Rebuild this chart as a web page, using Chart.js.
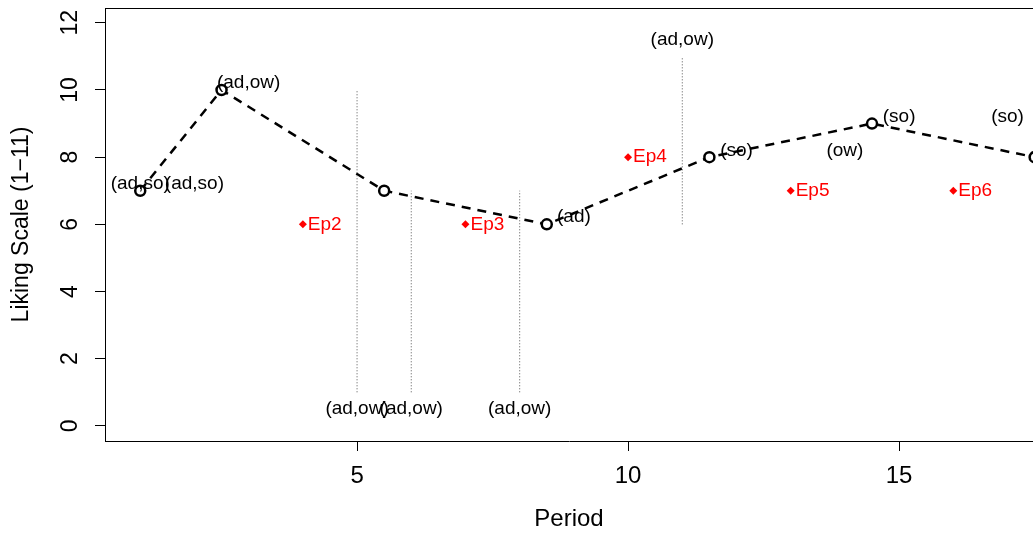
<!DOCTYPE html>
<html>
<head>
<meta charset="utf-8">
<title>Liking by period</title>
<script src="https://cdn.jsdelivr.net/npm/chart.js@4.4.1/dist/chart.umd.min.js"></script>
<style>
    html, body { margin: 0; padding: 0; background: #fff; overflow: hidden; }
    #likingChart { display: block; }
</style>
</head>
<body>
<canvas id="likingChart" width="1033" height="539"></canvas>
<script>
// main series (liking score per period)
const periods = [1, 2.5, 5.5, 8.5, 11.5, 14.5, 17.5];
const liking = [7, 10, 7, 6, 8, 9, 8];

// episode markers
const epPeriods = [4, 7, 10, 13, 16];
const epLiking = [6, 6, 8, 7, 7];
const epLabels = ['Ep2', 'Ep3', 'Ep4', 'Ep5', 'Ep6'];

// dotted event lines and their labels
const eventPeriods = [5, 6, 8, 11];
const eventFrom = [1, 1, 1, 6];
const eventTo = [10, 7, 7, 11];
const eventLabelY = [0.5, 0.5, 0.5, 11.5];
const eventLabels = ['(ad,ow)', '(ad,ow)', '(ad,ow)', '(ad,ow)'];

// notes next to the series
const noteX = [1, 2, 3, 9, 12, 14, 15, 17];
const noteY = [7.22, 7.22, 10.22, 6.22, 8.2, 8.2, 9.2, 9.2];
const noteText = ['(ad,so)', '(ad,so)', '(ad,ow)', '(ad)', '(so)', '(ow)', '(so)', '(so)'];

// axis ticks
const xTicks = [5, 10, 15];
const yTicks = [0, 2, 4, 6, 8, 10, 12];

const fontFamily = "'Liberation Sans', Arial, Helvetica, sans-serif";

const datasets = [];

eventPeriods.forEach((x, i) => {
    datasets.push({
        data: [{ x: x, y: eventFrom[i] }, { x: x, y: eventTo[i] }],
        borderColor: '#555',
        borderWidth: 1,
        borderDash: [1, 2],
        pointRadius: 0,
        fill: false
    });
});

datasets.push({
    data: periods.map((x, i) => ({ x: x, y: liking[i] })),
    borderColor: '#000',
    borderWidth: 2.5,
    borderDash: [9, 7],
    pointStyle: 'circle',
    pointRadius: 5,
    pointBorderWidth: 2.5,
    pointBorderColor: '#000',
    pointBackgroundColor: '#fff',
    fill: false
});

datasets.push({
    data: epPeriods.map((x, i) => ({ x: x, y: epLiking[i] })),
    showLine: false,
    pointStyle: 'rectRot',
    pointRadius: 4,
    pointBorderWidth: 0,
    pointBackgroundColor: '#ff0000',
    pointBorderColor: '#ff0000'
});

// text labels and the top edge of the frame
const textPlugin = {
    id: 'textLabels',
    afterDatasetsDraw(chart) {
        const ctx = chart.ctx;
        const xs = chart.scales.x;
        const ys = chart.scales.y;
        const area = chart.chartArea;

        ctx.save();
        ctx.font = '19px ' + fontFamily;
        ctx.textBaseline = 'middle';

        ctx.fillStyle = '#000';
        ctx.textAlign = 'center';
        noteText.forEach((t, i) => {
            ctx.fillText(t, xs.getPixelForValue(noteX[i]), ys.getPixelForValue(noteY[i]));
        });
        eventLabels.forEach((t, i) => {
            ctx.fillText(t, xs.getPixelForValue(eventPeriods[i]), ys.getPixelForValue(eventLabelY[i]));
        });

        ctx.fillStyle = '#ff0000';
        ctx.textAlign = 'left';
        epLabels.forEach((t, i) => {
            ctx.fillText(t, xs.getPixelForValue(epPeriods[i]) + 5, ys.getPixelForValue(epLiking[i]));
        });

        ctx.strokeStyle = '#000';
        ctx.lineWidth = 1;
        ctx.beginPath();
        ctx.moveTo(area.left, area.top + 0.5);
        ctx.lineTo(area.right, area.top + 0.5);
        ctx.stroke();
        ctx.restore();
    }
};

new Chart(document.getElementById('likingChart'), {
    type: 'line',
    data: { datasets: datasets },
    options: {
        responsive: false,
        animation: false,
        layout: { autoPadding: false, padding: { top: 8, right: 0, left: 0, bottom: 0 } },
        plugins: {
            legend: { display: false },
            tooltip: { enabled: false }
        },
        scales: {
            x: {
                type: 'linear',
                min: 0.35,
                max: 17.47,
                afterBuildTicks: scale => { scale.ticks = xTicks.map(v => ({ value: v })); },
                afterFit: scale => {
                    scale.height = 98;
                    scale.paddingLeft = 0;
                    scale.paddingRight = 0;
                },
                grid: { drawOnChartArea: false, drawTicks: true, tickLength: 10, tickColor: '#000' },
                border: { display: true, color: '#000', width: 1 },
                ticks: {
                    color: '#000',
                    padding: 11,
                    maxRotation: 0,
                    font: { family: fontFamily, size: 24 }
                },
                title: {
                    display: true,
                    text: 'Period',
                    color: '#000',
                    font: { family: fontFamily, size: 24 },
                    padding: { top: 0, bottom: 5 }
                }
            },
            y: {
                type: 'linear',
                min: -0.45,
                max: 12.44,
                afterBuildTicks: scale => { scale.ticks = yTicks.map(v => ({ value: v })); },
                afterFit: scale => {
                    scale.width = 105;
                    scale.paddingTop = 0;
                    scale.paddingBottom = 0;
                },
                grid: { drawOnChartArea: false, drawTicks: true, tickLength: 10, tickColor: '#000' },
                border: { display: true, color: '#000', width: 1 },
                ticks: {
                    color: '#000',
                    padding: 12,
                    minRotation: 90,
                    maxRotation: 90,
                    crossAlign: 'center',
                    font: { family: fontFamily, size: 23 }
                },
                title: {
                    display: true,
                    text: 'Liking Scale (1\u221211)',
                    color: '#000',
                    font: { family: fontFamily, size: 23 },
                    padding: { top: 8, bottom: 0 }
                }
            }
        }
    },
    plugins: [textPlugin]
});
</script>
</body>
</html>
